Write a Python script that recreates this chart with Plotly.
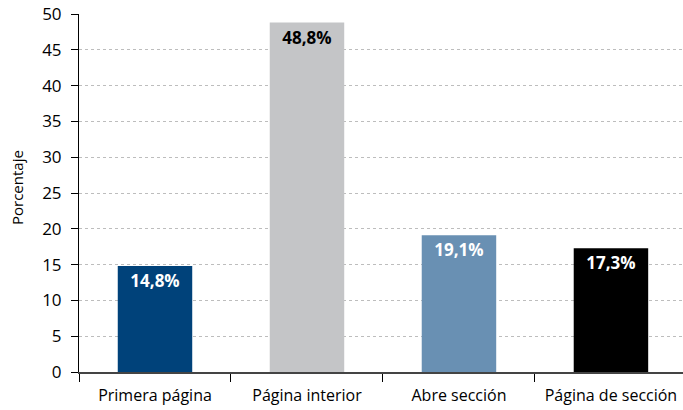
import plotly.graph_objects as go

categories = ["Primera página", "Página interior", "Abre sección", "Página de sección"]
values = [14.8, 48.8, 19.1, 17.3]
labels = ["14,8%", "48,8%", "19,1%", "17,3%"]
colors = ["#00427A", "#C4C5C7", "#6990B3", "#000000"]
label_colors = ["#FFFFFF", "#000000", "#FFFFFF", "#FFFFFF"]
y_ticks = [0, 5, 10, 15, 20, 25, 30, 35, 40, 45, 50]
y_title = "Porcentaje"

FONT = "Open Sans, Noto Sans, sans-serif"

fig = go.Figure(
    go.Bar(
        x=categories,
        y=values,
        text=labels,
        textposition="inside",
        insidetextanchor="end",
        textfont=dict(family=FONT, size=17, color=label_colors, weight="bold"),
        marker=dict(color=colors, line=dict(width=0)),
        width=0.49,
        cliponaxis=False,
    )
)

fig.update_layout(
    width=683,
    height=410,
    margin=dict(l=79, r=0, t=14, b=38, autoexpand=False),
    plot_bgcolor="white",
    paper_bgcolor="white",
    showlegend=False,
    font=dict(family=FONT, size=15, color="#000000"),
    uniformtext=dict(minsize=17, mode="show"),
)

fig.add_annotation(
    text=y_title,
    xref="paper",
    yref="paper",
    x=-62 / 604,
    y=0.514,
    xanchor="center",
    yanchor="middle",
    textangle=-90,
    showarrow=False,
    font=dict(family=FONT, size=15, color="#000000"),
)

fig.update_xaxes(
    range=[-0.5, 3.474],
    automargin=False,
    tickson="boundaries",
    ticks="outside",
    ticklen=8,
    tickcolor="#000000",
    tickwidth=1,
    ticklabelstandoff=8,
    showline=True,
    linecolor="#444444",
    linewidth=2,
    showgrid=False,
    tickfont=dict(family=FONT, size=16, color="#000000"),
)

fig.update_yaxes(
    range=[0, 50],
    automargin=False,
    tickvals=y_ticks,
    ticks="outside",
    ticklen=7,
    tickcolor="#000000",
    ticklabelstandoff=6,
    showline=True,
    linecolor="#000000",
    linewidth=1,
    showgrid=True,
    gridcolor="#BDBDBD",
    griddash="dot",
    gridwidth=1,
    zeroline=False,
    tickfont=dict(family=FONT, size=17, color="#000000"),
)

fig.write_html(
    "out.html",
    config={"displayModeBar": False},
    post_script="document.body.style.margin='0';document.body.style.overflow='hidden';",
)
